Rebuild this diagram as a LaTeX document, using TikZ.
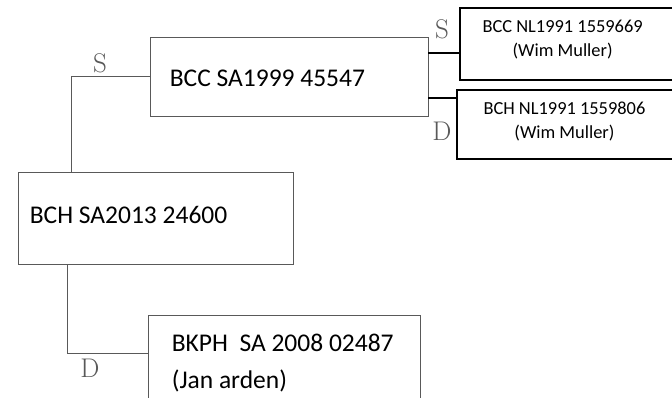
\documentclass[tikz,border=0pt]{standalone}
\usepackage{fontspec}
\setmainfont{Carlito}
\usetikzlibrary{positioning}

\tikzset{
  pencil/.style={draw=black!65,line width=.8pt},
  ink/.style={draw=black,line width=1.3pt},
  bigtxt/.style={inner sep=0pt,align=left,font=\fontsize{25.5}{37}\selectfont},
  smalltxt/.style={inner sep=0pt,align=center,font=\fontsize{18.4}{24}\selectfont},
  hand/.style={text=black!65,font=\fontfamily{lmr}\fontsize{27}{27}\selectfont}
}

\begin{document}
\begin{tikzpicture}[x=1pt,y=-1pt]
\useasboundingbox (0,0) rectangle (672,397);
% boxes
\node[pencil,minimum width=278,minimum height=79] (bccsa) at (289,76.5) {};
\node[pencil,minimum width=275,minimum height=92] (bchsa) at (155.5,218) {};
\node[pencil,minimum width=272,minimum height=96] (bkph) at (284,363) {};
\node[ink,minimum width=240,minimum height=72] (nls) at (580,44) {};
\node[ink,minimum width=243,minimum height=69] (nld) at (578.5,124.5) {};
% texts
\node[bigtxt,right=20pt of bccsa.west,yshift=-1.5pt] (bccsatxt) {BCC SA1999 45547};
\node[bigtxt,right=12pt of bchsa.west,yshift=3pt] (bchsatxt) {BCH SA2013 24600};
\node[bigtxt,right=24pt of bkph.west] (bkphtxt) {BKPH\ \ SA 2008 02487\\(Jan arden)};
\node[smalltxt,right=23pt of nls.west,yshift=4pt] (nlstxt) {BCC NL1991 1559669\\(Wim Muller)};
\node[smalltxt,right=27pt of nld.west,yshift=3.5pt] (nldtxt) {BCH NL1991 1559806\\(Wim Muller)};
% sire / dam marks
\node[hand] (s1lbl) at (100,63) {S};
\node[hand] (s2lbl) at (442,29) {S};
\node[hand] (d1lbl) at (90,368) {D};
\node[hand] (d2lbl) at (442,131) {D};
% connectors
\coordinate (s1) at (71,0);
\coordinate (d1) at (67,353);
\coordinate (r1) at (0,53);
\coordinate (r2) at (0,98);
\draw[pencil] (bccsa.west) -| (bchsa.north -| s1);
\draw[pencil] (bchsa.south -| d1) |- (bkph.west |- d1);
\draw[ink] (bccsa.east |- r1) -- (nls.west |- r1);
\draw[ink] (bccsa.east |- r2) -- (nld.west |- r2);
\end{tikzpicture}
\end{document}
